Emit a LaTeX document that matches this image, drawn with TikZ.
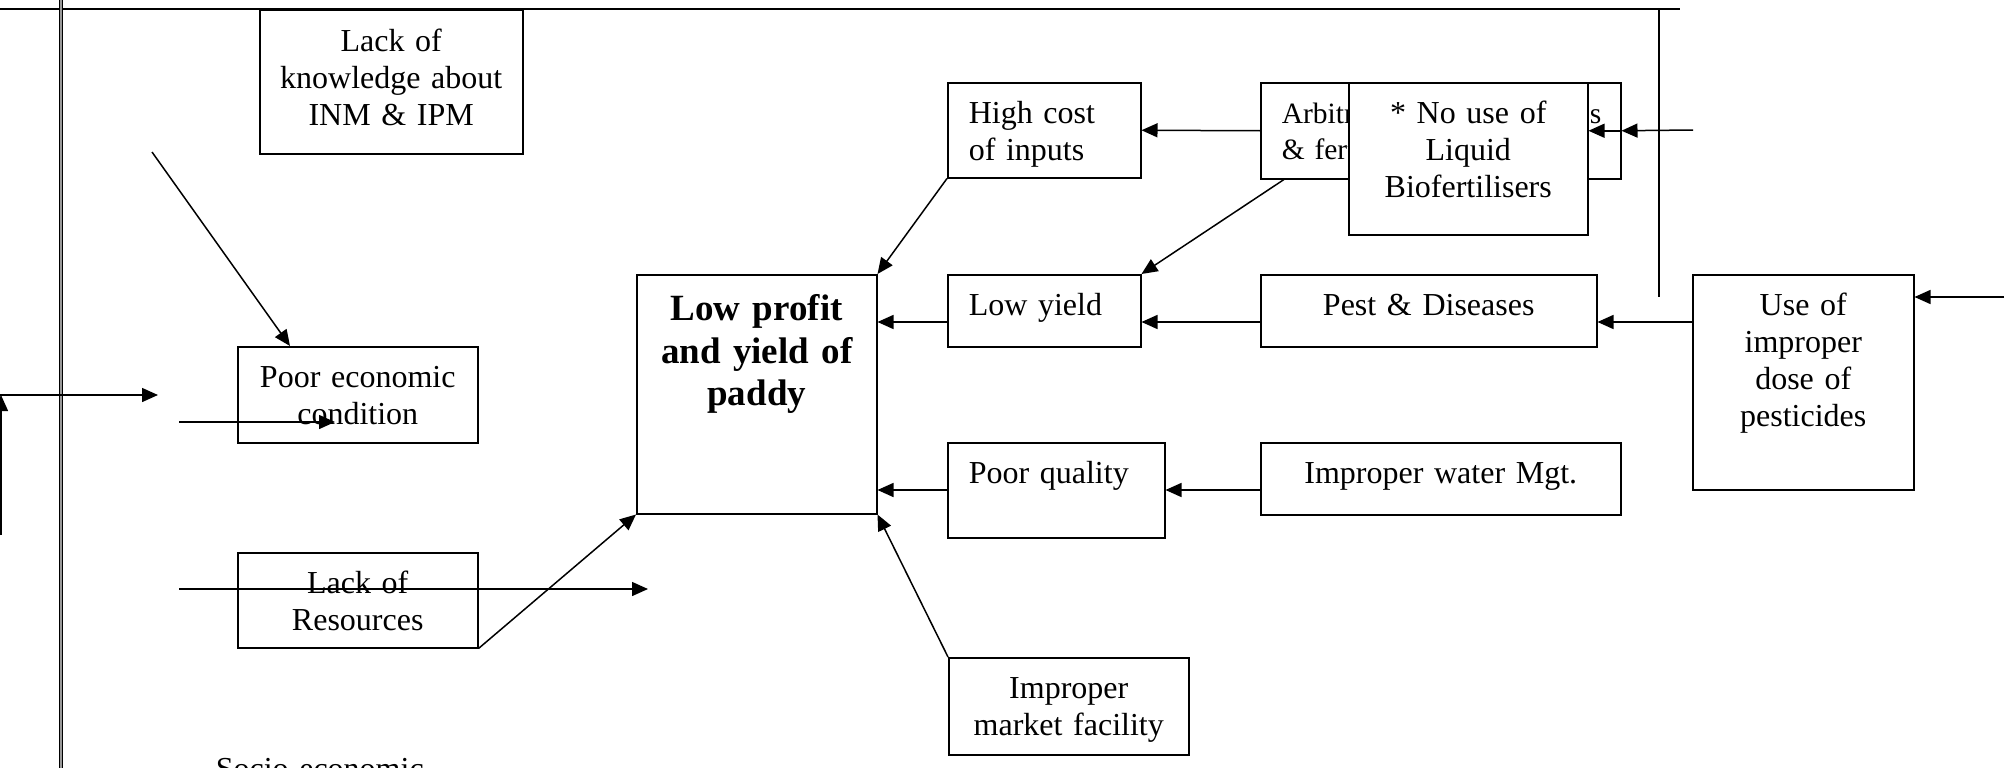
\documentclass[tikz,border=0pt]{standalone}
\usepackage{fontspec}
\setmainfont{Liberation Serif}
\usetikzlibrary{arrows.meta}

\begin{document}
\begin{tikzpicture}[
    x=1pt, y=-1pt,
    line width=1.5pt,
    >={Triangle[length=16pt, width=14pt]},
    every node/.style={font=\fontsize{32}{36.8}\selectfont},
    box/.style={draw, fill=white, anchor=north west, inner ysep=0pt,
                inner xsep=8pt, text height=41pt, align=center},
    lbox/.style={box, inner xsep=21pt, align=left},
]
  \useasboundingbox (0,0) rectangle (2007,768);

  \coordinate (tl)    at (0,9);
  \coordinate (tr)    at (1680,9);
  \coordinate (tv)    at (1659,9);
  \coordinate (tvend) at (1659,297);
  \coordinate (dtop)  at (61,0);
  \coordinate (dbot)  at (61,768);
  \draw (tl) -- (tr);
  \draw (tv) -- (tvend);
  \draw [double=black!40, double distance=1.6pt, line width=1pt] (dtop) -- (dbot);

  % boxes
  \node [box,  text width=247pt, text depth=102pt] (knowledge) at (259,10)  {Lack of\\knowledge about\\INM \& IPM};
  \node [box,  text width=224pt, text depth=55pt]  (economic)  at (237,346) {Poor economic\\condition};
  \node [box,  text width=224pt, text depth=54pt]  (resources) at (237,552) {Lack of\\Resources};
  \node [box,  text width=224pt, text height=46pt, text depth=193pt,
         font=\fontsize{37}{42.5}\selectfont\bfseries]
                                                   (profit)    at (636,274) {Low profit\\and yield of\\paddy};
  \node [lbox, text width=151pt, text depth=54pt]  (cost)      at (947,82)  {High cost\\of inputs};
  \node [lbox, text width=151pt, text depth=31pt]  (yieldlow)  at (947,274) {Low yield};
  \node [lbox, text width=175pt, text depth=54pt]  (quality)   at (947,442) {Poor quality};
  \node [box,  text width=224pt, text depth=56pt]  (market)    at (948,657) {Improper\\market facility};
  \node [lbox, text width=318pt, text depth=55pt,
         font=\fontsize{29.5}{35.5}\selectfont]    (arbit)     at (1260,82) {\mbox{Arbitrary use of pesticides}\\\& fertilisers};
  \node [box,  text width=223pt, text depth=111pt] (liquid)    at (1348,82) {* No use of\\Liquid\\Biofertilisers};
  \node [box,  text width=320pt, text depth=31pt]  (pest)      at (1260,274) {Pest \& Diseases};
  \node [box,  text width=344pt, text depth=31pt]  (water)     at (1260,442) {Improper water Mgt.};
  \node [box,  text width=205pt, text depth=174pt] (dose)      at (1692,274) {Use of\\improper\\dose of\\pesticides};
  \node [anchor=base west, inner sep=0pt]          (socio)     at (215,779) {Socio-economic};

  % connectors
  \coordinate (lv)    at (1,535);
  \coordinate (lh)    at (1,395);
  \coordinate (lh0)   at (0,395);
  \coordinate (lhend) at (158,395);
  \coordinate (kn)    at (152,152);
  \coordinate (ec1)   at (179,422);
  \coordinate (ec2)   at (335,422);
  \coordinate (rs1)   at (179,589);
  \coordinate (rs2)   at (648,589);
  \coordinate (ar)    at (1693,130);
  \coordinate (dr)    at (2004,297);
  \coordinate (row2)  at (0,322);
  \coordinate (row3)  at (0,490);

  \draw [->] (lv) -- (lh);
  \draw [->] (lh0) -- (lhend);
  \draw [->] (kn) -- ([xshift=53pt]economic.north west);
  \draw [->] (ec1) -- (ec2);
  \draw [->] (rs1) -- (rs2);
  \draw [->] (resources.south east) -- (profit.south west);
  \draw [->] (cost.south west) -- (profit.north east);
  \draw [->] (market.north west) -- (profit.south east);
  \draw [->] (arbit.west) -- (cost.east);
  \draw [->] ([xshift=24pt]arbit.south west) -- (yieldlow.north east);
  \draw [->] (ar) -- (arbit.east);
  \draw [->] (arbit.east) -- (arbit.east -| liquid.east);
  \draw [->] (dr) -- (dose.east |- dr);
  \draw [->] (dose.west |- row2) -- (pest.east |- row2);
  \draw [->] (pest.west |- row2) -- (yieldlow.east |- row2);
  \draw [->] (yieldlow.west |- row2) -- (profit.east |- row2);
  \draw [->] (water.west |- row3) -- (quality.east |- row3);
  \draw [->] (quality.west |- row3) -- (profit.east |- row3);
\end{tikzpicture}
\end{document}
